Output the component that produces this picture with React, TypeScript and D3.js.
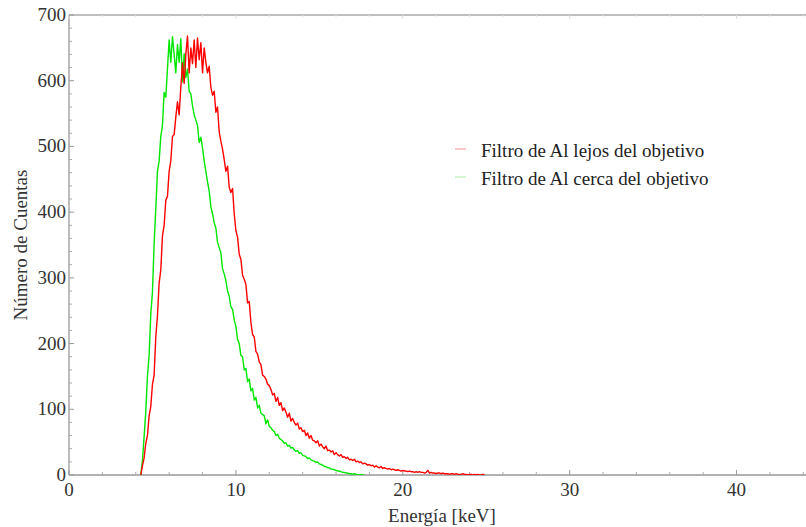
import React from 'react';
import * as d3 from 'd3';

// spectrum bins: first energy and bin width, keV
const E0 = 4.3;
const DE = 0.1;

// Filtro de Al lejos del objetivo (red)
const lejos = [
  0, 14, 26, 48, 60, 90, 104, 138, 152, 210,
  242, 292, 312, 364, 380, 418, 424, 462, 478, 515,
  518, 545, 568, 548, 590, 627, 596, 640, 668, 612,
  650, 626, 662, 620, 665, 632, 658, 612, 650, 628,
  612, 622, 590, 578, 584, 552, 560, 522, 508, 496,
  480, 462, 470, 438, 430, 436, 398, 372, 362, 336,
  328, 304, 298, 290, 262, 264, 232, 214, 210, 188,
  184, 172, 168, 152, 150, 146, 138, 136, 130, 122,
  124, 112, 118, 106, 110, 98, 102, 96, 88, 94,
  82, 86, 80, 76, 79, 70, 72, 66, 68, 60,
  64, 56, 60, 53, 52, 49, 52, 44, 47, 43,
  40, 44, 37, 38, 35, 37, 31, 34, 31, 29,
  31, 27, 28, 25, 27, 23, 24, 22, 24, 20,
  21, 19, 20, 17, 18, 17, 15, 16, 14, 15,
  12, 14, 12, 11, 13, 10, 11, 10, 9, 10,
  8, 9, 8, 7, 8, 7, 6, 7, 6, 6,
  5, 6, 5, 5, 4, 5, 4, 5, 4, 4,
  3, 4, 7, 3, 4, 3, 3, 2, 3, 3,
  2, 3, 2, 2, 2, 1, 2, 2, 1, 2,
  1, 1, 1, 2, 1, 1, 0, 1, 1, 0,
  1, 0, 1, 0, 0, 1, 0,
];

// Filtro de Al cerca del objetivo (green)
const cerca = [
  0, 22, 58, 96, 150, 182, 245, 278, 352, 405,
  462, 478, 515, 532, 582, 575, 618, 662, 628, 667,
  640, 612, 655, 628, 664, 598, 641, 605, 618, 584,
  580, 562, 548, 540, 532, 506, 514, 498, 478, 462,
  446, 432, 408, 398, 384, 376, 354, 346, 338, 314,
  306, 296, 280, 272, 256, 252, 236, 226, 206, 200,
  182, 180, 160, 162, 142, 146, 128, 132, 114, 118,
  102, 106, 94, 92, 90, 78, 84, 74, 72, 68,
  66, 60, 62, 56, 54, 52, 48, 49, 44, 45,
  41, 42, 38, 36, 37, 33, 34, 30, 29, 28,
  25, 26, 23, 22, 21, 19, 20, 17, 16, 15,
  13, 13, 11, 11, 9, 9, 8, 7, 6, 6,
  5, 4, 4, 3, 3, 2, 2, 1, 2, 1,
  1, 0, 1, 0, 0,
];

const seriesNames = ['Filtro de Al lejos del objetivo', 'Filtro de Al cerca del objetivo'];
const seriesColors = ['#ff0000', '#00e600'];
const legendColors = ['#f4a3a3', '#b8eeb8'];

const xMajor = [0, 10, 20, 30, 40];
const yMajor = [0, 100, 200, 300, 400, 500, 600, 700];

const W = 806;
const H = 527;
const left = 69;
const right = 805;
const top = 15;
const bottom = 475;
const font = '"Liberation Serif", "Times New Roman", serif';

export default function App() {
  const x = d3.scaleLinear().domain([0, 44.1]).range([left, right]);
  const y = d3.scaleLinear().domain([0, 700]).range([bottom, top]);

  const line = d3.line<number>()
    .x((_, i) => x(E0 + i * DE))
    .y(d => y(d));

  const xMinor = d3.range(0, 45, 2).filter(v => !xMajor.includes(v));
  const yMinor = d3.range(0, 701, 20).filter(v => !yMajor.includes(v));

  const data = [lejos, cerca];

  return (
    <svg width={W} height={H} style={{ position: 'absolute', left: 0, top: 0, background: '#fff' }}>
      <defs>
        <clipPath id="plot">
          <rect x={left} y={top} width={right - left + 5} height={bottom - top} />
        </clipPath>
      </defs>

      {/* frame */}
      <line x1={left} x2={W} y1={top} y2={top} stroke="#aaa" strokeWidth={1.3} />
      <line x1={left} x2={W} y1={bottom} y2={bottom} stroke="#999" strokeWidth={1.3} />
      <line x1={left} x2={left} y1={top} y2={bottom} stroke="#999" strokeWidth={1.3} />

      {/* x ticks, bottom and faint top */}
      {xMajor.map(v => (
        <g key={'xM' + v}>
          <line x1={x(v)} x2={x(v)} y1={bottom} y2={bottom - 5} stroke="#999" />
          <line x1={x(v)} x2={x(v)} y1={top} y2={top + 4} stroke="#ddd" />
          <text x={x(v)} y={bottom + 21} textAnchor="middle" fontFamily={font} fontSize={19} fill="#333">{v}</text>
        </g>
      ))}
      {xMinor.map(v => (
        <g key={'xm' + v}>
          <line x1={x(v)} x2={x(v)} y1={bottom} y2={bottom - 3} stroke="#aaa" />
          <line x1={x(v)} x2={x(v)} y1={top} y2={top + 2} stroke="#e4e4e4" />
        </g>
      ))}

      {/* y ticks */}
      {yMajor.map(v => (
        <g key={'yM' + v}>
          <line x1={left} x2={left + 5} y1={y(v)} y2={y(v)} stroke="#999" />
          <text x={left - 3} y={y(v) + 6} textAnchor="end" fontFamily={font} fontSize={19} fill="#333">{v}</text>
        </g>
      ))}
      {yMinor.map(v => (
        <line key={'ym' + v} x1={left} x2={left + 3} y1={y(v)} y2={y(v)} stroke="#aaa" />
      ))}

      {/* spectra */}
      <g clipPath="url(#plot)">
        {[1, 0].map(k => (
          <path key={k} d={line(data[k]) || ''} fill="none" stroke={seriesColors[k]} strokeWidth={1.4} strokeLinejoin="round" />
        ))}
      </g>

      {/* legend */}
      {seriesNames.map((name, k) => (
        <g key={name} transform={`translate(455, ${149 + k * 28})`}>
          <line x1={0} x2={11} y1={0} y2={0} stroke={legendColors[k]} strokeWidth={1.2} />
          <text x={26} y={8} fontFamily={font} fontSize={19} fill="#222">{name}</text>
        </g>
      ))}

      {/* axis labels */}
      <text x={442} y={522} textAnchor="middle" fontFamily={font} fontSize={19} fill="#333">Energía [keV]</text>
      <text transform="translate(27, 245) rotate(-90)" textAnchor="middle" fontFamily={font} fontSize={19} fill="#333">Número de Cuentas</text>
    </svg>
  );
}
